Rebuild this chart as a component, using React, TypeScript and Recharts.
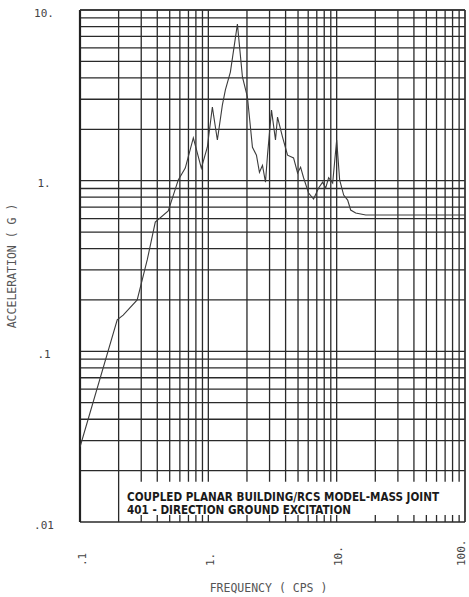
import { LineChart, Line, XAxis, YAxis, CartesianGrid, ReferenceArea, ReferenceLine, Label } from 'recharts'

// response spectrum (frequency in cps, acceleration in g)
const freqs = [
    0.1, 0.195, 0.217, 0.279, 0.334, 0.386, 0.487, 0.583, 0.661, 0.764,
    0.882, 0.982, 1.075, 1.176, 1.286, 1.358, 1.485, 1.685, 1.844, 2.017,
    2.207, 2.371, 2.502, 2.642, 2.788, 2.89, 3.106, 3.337, 3.46, 3.786,
    4.142, 4.615, 4.959, 5.234, 5.523, 6.042, 6.61, 7.235, 7.776, 8.207,
    8.66, 9.307, 10, 10.55, 11.34, 12.18, 12.86, 14.07, 16.85, 100,
]
const accels = [
    0.0275, 0.153, 0.163, 0.2, 0.343, 0.572, 0.664, 1.01, 1.185, 1.78,
    1.185, 1.57, 2.7, 1.73, 2.77, 3.4, 4.33, 8.27, 4.05, 3.09,
    1.57, 1.41, 1.12, 1.23, 0.98, 1.41, 2.59, 1.73, 2.36, 1.8,
    1.41, 1.36, 1.11, 1.2, 1.04, 0.846, 0.78, 0.905, 0.98, 0.905,
    1.04, 0.968, 1.73, 1.01, 0.823, 0.77, 0.673, 0.646, 0.629, 0.629,
]

const freqTicks = [0.1, 1, 10, 100]
const freqTickLabels = ['.1', '1.', '10.', '100.']
const accelTicks = [0.01, 0.1, 1, 10]
const accelTickLabels = ['.01', '.1', '1.', '10.']

const freqGrid = [
    0.1, 0.2, 0.3, 0.4, 0.5, 0.6, 0.7, 0.8, 0.9,
    1, 2, 3, 4, 5, 6, 7, 8, 9,
    10, 20, 30, 40, 50, 60, 70, 80, 90, 100,
]
const accelGrid = [
    0.01, 0.02, 0.03, 0.04, 0.05, 0.06, 0.07, 0.08, 0.09,
    0.1, 0.2, 0.3, 0.4, 0.5, 0.6, 0.7, 0.8, 0.9,
    1, 2, 3, 4, 5, 6, 7, 8, 9, 10,
]

const noteLines = ['COUPLED PLANAR BUILDING/RCS MODEL-MASS JOINT', '401 - DIRECTION GROUND EXCITATION']
const noteWidths = [312, 224]

const data = freqs.map((f, i) => ({ f, a: accels[i] }))

const tickFont = '"DejaVu Sans Mono", monospace'

function FreqTick({ x, y, payload }: any) {
    const i = freqTicks.indexOf(payload.value)
    const tx = Math.min(x + 2, 461)
    const ty = y + 36
    return (
        <text x={tx} y={ty} transform={`rotate(-90, ${tx}, ${ty})`} textAnchor="start" dominantBaseline="central"
            fontFamily={tickFont} fontSize={11} fill="#444">
            {freqTickLabels[i]}
        </text>
    )
}

function AccelTick({ y, payload }: any) {
    const i = accelTicks.indexOf(payload.value)
    return (
        <text x={44} y={y + 3} textAnchor="middle" dominantBaseline="central"
            fontFamily={tickFont} fontSize={11} fill="#444">
            {accelTickLabels[i]}
        </text>
    )
}

function Note({ viewBox }: any) {
    const { x, y } = viewBox
    return (
        <g>
            {noteLines.map((line, i) => (
                <text key={i} x={x - 1} y={y + 19 + i * 13} textLength={noteWidths[i]} lengthAdjust="spacingAndGlyphs"
                    fontFamily='"Liberation Sans Narrow", "DejaVu Sans Condensed", sans-serif' fontSize={12}
                    fontWeight={600} fill="#1a1a1a">
                    {line}
                </text>
            ))}
        </g>
    )
}

export default function App() {
    return (
        <div style={{ position: 'absolute', left: 0, top: 0, background: '#fff' }}>
            <LineChart width={469} height={597} data={data} margin={{ top: 10, right: 4, bottom: 0, left: 0 }}>
                <CartesianGrid verticalValues={freqGrid} horizontalValues={accelGrid} stroke="#2a2a2a" strokeWidth={1.3} />
                <XAxis dataKey="f" type="number" scale="log" domain={[0.1, 100]} allowDataOverflow ticks={freqTicks}
                    interval={0} axisLine={false} tickLine={false} height={75} tick={<FreqTick />}>
                    <Label value="FREQUENCY ( CPS )" position="insideBottom" offset={5} dx={-4}
                        style={{ fontFamily: tickFont, fontSize: 11.5, fill: '#555' }} />
                </XAxis>
                <YAxis type="number" scale="log" domain={[0.01, 10]} allowDataOverflow ticks={accelTicks}
                    interval={0} axisLine={false} tickLine={false} width={80} tick={<AccelTick />}>
                    <Label value="ACCELERATION ( G )" angle={-90} position="insideLeft" offset={12}
                        style={{ fontFamily: tickFont, fontSize: 11.5, fill: '#555', textAnchor: 'middle' }} />
                </YAxis>
                <ReferenceArea x1={0.237} x2={96} y1={0.011} y2={0.0172} fill="#fff" fillOpacity={1} stroke="none"
                    label={<Note />} />
                <ReferenceLine x={0.1} stroke="#222" strokeWidth={2.2} />
                <ReferenceLine x={100} stroke="#333" strokeWidth={1.3} />
                <ReferenceLine y={10} stroke="#333" strokeWidth={1.3} />
                <Line type="linear" dataKey="a" stroke="#3c3c3c" strokeWidth={1.1} dot={false} isAnimationActive={false} />
            </LineChart>
        </div>
    )
}
